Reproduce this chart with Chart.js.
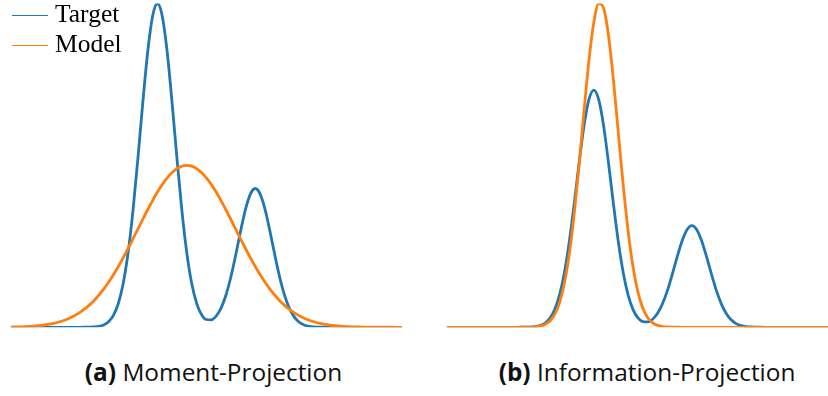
<!DOCTYPE html>
<html>
<head>
<meta charset="utf-8">
<script src="https://cdn.jsdelivr.net/npm/chart.js@4.4.1/dist/chart.umd.min.js"></script>
<style>
  html, body { margin: 0; padding: 0; background: #fff; }
  body { position: relative; width: 828px; height: 396px; overflow: hidden; }
  canvas { position: absolute; top: 0; }
  #panelA { left: 0; }
  #panelB { left: 414px; }
  .key { position: absolute; left: 12px; top: 0; height: 30px; width: 120px; }
  .key i { position: absolute; left: 0; width: 36px; height: 1.5px; top: 14.95px; }
  .key span { position: absolute; left: 43px; top: 1.3px; font-family: "Liberation Serif", serif;
              font-size: 25.5px; line-height: 25.5px; color: #000; white-space: nowrap; }
  .caption { position: absolute; top: 360.3px; font-family: "Open Sans", sans-serif; font-size: 24.4px;
             line-height: 24.4px; color: #111; white-space: nowrap; transform: translateX(-50%); }
  .caption b { font-weight: 700; }
</style>
</head>
<body>
<canvas id="panelA" width="414" height="340"></canvas>
<canvas id="panelB" width="430" height="340"></canvas>

<div class="key" style="top:0px"><i style="background:#1f77b4"></i><span>Target</span></div>
<div class="key" style="top:30px"><i style="background:#ff7f0e"></i><span>Model</span></div>

<div class="caption" style="left:213.5px"><b>(a)</b> Moment-Projection</div>
<div class="caption" style="left:647px"><b>(b)</b> Information-Projection</div>

<script>
// Shared grid of x positions
const xs = [
  -4.0, -3.9, -3.8, -3.7, -3.6, -3.5, -3.4, -3.3, -3.2, -3.1,
  -3.0, -2.9, -2.8, -2.7, -2.6, -2.5, -2.4, -2.3, -2.2, -2.1,
  -2.0, -1.9, -1.8, -1.7, -1.6, -1.5, -1.4, -1.3, -1.2, -1.1,
  -1.0, -0.9, -0.8, -0.7, -0.6, -0.5, -0.4, -0.3, -0.2, -0.1,
   0.0,  0.1,  0.2,  0.3,  0.4,  0.5,  0.6,  0.7,  0.8,  0.9,
   1.0,  1.1,  1.2,  1.3,  1.4,  1.5,  1.6,  1.7,  1.8,  1.9,
   2.0,  2.1,  2.2,  2.3,  2.4,  2.5,  2.6,  2.7,  2.8,  2.9,
   3.0,  3.1,  3.2,  3.3,  3.4,  3.5,  3.6,  3.7,  3.8,  3.9,
   4.0
];

// Bimodal target density (same in both panels)
const targetY = [
  0, 0, 0, 0, 0, 0, 0, 0, 0, 0,
  0, 0, 0, 0, 0, 0.0001, 0.0003, 0.0008, 0.0022, 0.0057,
  0.0135, 0.0293, 0.0586, 0.1080, 0.1836, 0.2876, 0.4153, 0.5526, 0.6777, 0.7660,
  0.7979, 0.7660, 0.6777, 0.5526, 0.4153, 0.2876, 0.1837, 0.1083, 0.0595, 0.0317,
  0.0192, 0.0183, 0.0273, 0.0471, 0.0790, 0.1233, 0.1780, 0.2368, 0.2905, 0.3283,
  0.3420, 0.3283, 0.2905, 0.2368, 0.1780, 0.1232, 0.0787, 0.0463, 0.0251, 0.0125,
  0.0058, 0.0024, 0.0010, 0.0003, 0.0001, 0, 0, 0, 0, 0,
  0, 0, 0, 0, 0, 0, 0, 0, 0, 0,
  0
];

// Moment-projection fit: one broad bump covering both modes
const momentY = [
  0.0006, 0.0009, 0.0012, 0.0017, 0.0024, 0.0033, 0.0044, 0.0060, 0.0079, 0.0104,
  0.0136, 0.0175, 0.0224, 0.0283, 0.0355, 0.0440, 0.0540, 0.0656, 0.0790, 0.0940,
  0.1109, 0.1295, 0.1497, 0.1714, 0.1942, 0.2179, 0.2420, 0.2661, 0.2897, 0.3123,
  0.3332, 0.3521, 0.3683, 0.3814, 0.3910, 0.3970, 0.3989, 0.3970, 0.3910, 0.3814,
  0.3683, 0.3521, 0.3332, 0.3123, 0.2897, 0.2661, 0.2420, 0.2179, 0.1942, 0.1714,
  0.1497, 0.1295, 0.1109, 0.0940, 0.0790, 0.0656, 0.0540, 0.0440, 0.0355, 0.0283,
  0.0224, 0.0175, 0.0136, 0.0104, 0.0079, 0.0060, 0.0044, 0.0033, 0.0024, 0.0017,
  0.0012, 0.0009, 0.0006, 0.0004, 0.0003, 0.0002, 0.0001, 0.0001, 0.0001, 0,
  0
];

// Information-projection fit: narrow bump locked onto the main mode
const infoY = [
  0, 0, 0, 0, 0, 0, 0, 0, 0, 0,
  0, 0, 0, 0, 0, 0.0001, 0.0002, 0.0005, 0.0014, 0.0037,
  0.0091, 0.0204, 0.0426, 0.0824, 0.1480, 0.2465, 0.3810, 0.5461, 0.7264, 0.8962,
  1.0258, 1.0893, 1.0731, 0.9807, 0.8314, 0.6539, 0.4771, 0.3230, 0.2028, 0.1181,
  0.0639, 0.0320, 0.0149, 0.0064, 0.0026, 0.0010, 0.0003, 0.0001, 0, 0,
  0, 0, 0, 0, 0, 0, 0, 0, 0, 0,
  0, 0, 0, 0, 0, 0, 0, 0, 0, 0,
  0, 0, 0, 0, 0, 0, 0, 0, 0, 0,
  0
];

const seriesNames = ['Target', 'Model'];
const seriesColors = ['#1f77b4', '#ff7f0e'];

function points(ys) {
  return xs.map((x, i) => ({ x: x, y: ys[i] }));
}

function makeLine(name, ys, color, order) {
  return {
    label: name,
    data: points(ys),
    borderColor: color,
    backgroundColor: color,
    borderWidth: 2.8,
    pointRadius: 0,
    fill: false,
    cubicInterpolationMode: 'monotone',
    order: order
  };
}

function panel(id, modelY, yMax, padding) {
  new Chart(document.getElementById(id), {
    type: 'line',
    data: {
      datasets: [
        makeLine(seriesNames[0], targetY, seriesColors[0], 1),
        makeLine(seriesNames[1], modelY, seriesColors[1], 0)
      ]
    },
    options: {
      responsive: false,
      animation: false,
      events: [],
      layout: { padding: padding },
      plugins: { legend: { display: false }, tooltip: { enabled: false }, title: { display: false } },
      scales: {
        x: { type: 'linear', min: -4, max: 4, display: false },
        y: { type: 'linear', min: 0, max: yMax, display: false }
      }
    }
  });
}

panel('panelA', momentY, 0.7979, { left: 10.7, right: 12, top: 3.5, bottom: 12.7 });
panel('panelB', infoY, 1.0893, { left: 32.7, right: 5, top: 3.5, bottom: 12.7 });
</script>
</body>
</html>
